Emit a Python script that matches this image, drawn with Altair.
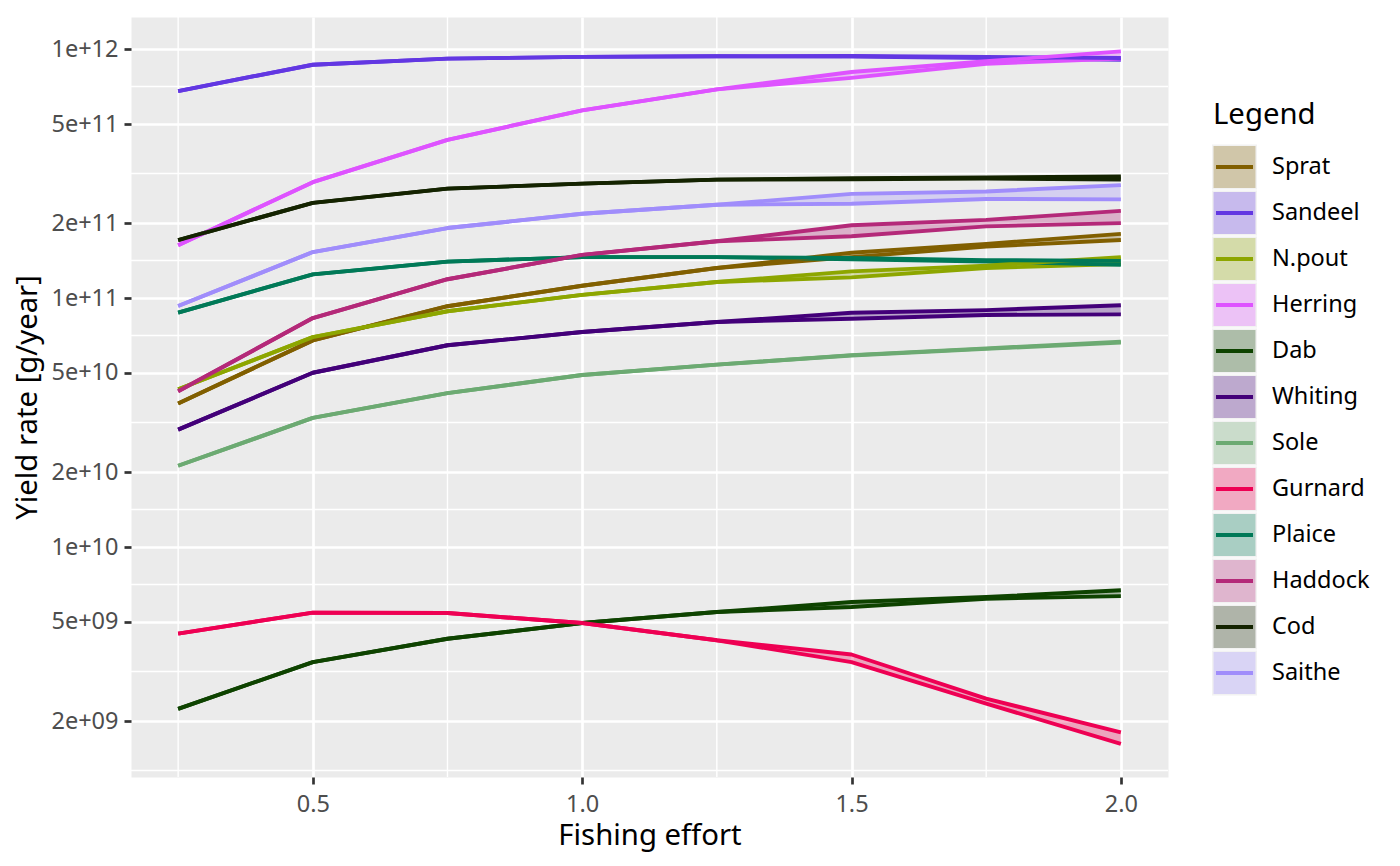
import altair as alt
import pandas as pd

# ---------------- data ----------------
effort = [0.25, 0.5, 0.75, 1.0, 1.25, 1.5, 1.75, 2.0]

species = ["Sprat", "Sandeel", "N.pout", "Herring", "Dab", "Whiting",
           "Sole", "Gurnard", "Plaice", "Haddock", "Cod", "Saithe"]
colours = ["#815f00", "#6237e2", "#8da600", "#de53ff", "#0e4300", "#430079",
           "#6caa72", "#ee0053", "#007957", "#b42979", "#142300", "#a08dfb"]

sprat_lo = [3.77e10, 6.76e10, 9.27e10, 1.12e11, 1.32e11, 1.46e11, 1.61e11, 1.71e11]
sprat_hi = [3.77e10, 6.76e10, 9.27e10, 1.12e11, 1.32e11, 1.52e11, 1.65e11, 1.81e11]
sandeel_lo = [6.78e11, 8.65e11, 9.15e11, 9.30e11, 9.35e11, 9.33e11, 9.20e11, 9.05e11]
sandeel_hi = [6.78e11, 8.65e11, 9.15e11, 9.30e11, 9.35e11, 9.38e11, 9.30e11, 9.20e11]
npout_lo = [4.30e10, 6.97e10, 8.85e10, 1.03e11, 1.16e11, 1.21e11, 1.32e11, 1.37e11]
npout_hi = [4.30e10, 6.97e10, 8.85e10, 1.03e11, 1.16e11, 1.28e11, 1.35e11, 1.46e11]
herring_lo = [1.63e11, 2.92e11, 4.32e11, 5.67e11, 6.89e11, 7.66e11, 8.73e11, 9.15e11]
herring_hi = [1.63e11, 2.92e11, 4.32e11, 5.67e11, 6.89e11, 8.09e11, 8.93e11, 9.79e11]
dab_lo = [2.24e9, 3.45e9, 4.28e9, 4.95e9, 5.48e9, 5.74e9, 6.20e9, 6.35e9]
dab_hi = [2.24e9, 3.45e9, 4.28e9, 4.95e9, 5.48e9, 6.01e9, 6.30e9, 6.70e9]
whiting_lo = [2.96e10, 5.01e10, 6.46e10, 7.30e10, 8.01e10, 8.26e10, 8.55e10, 8.60e10]
whiting_hi = [2.96e10, 5.01e10, 6.46e10, 7.30e10, 8.01e10, 8.73e10, 8.94e10, 9.36e10]
sole_lo = [2.12e10, 3.30e10, 4.15e10, 4.91e10, 5.40e10, 5.88e10, 6.25e10, 6.62e10]
sole_hi = [2.12e10, 3.30e10, 4.15e10, 4.91e10, 5.40e10, 5.90e10, 6.28e10, 6.68e10]
gurnard_lo = [4.49e9, 5.45e9, 5.43e9, 4.95e9, 4.22e9, 3.45e9, 2.35e9, 1.62e9]
gurnard_hi = [4.49e9, 5.45e9, 5.43e9, 4.95e9, 4.22e9, 3.70e9, 2.46e9, 1.80e9]
plaice_lo = [8.73e10, 1.245e11, 1.40e11, 1.46e11, 1.46e11, 1.43e11, 1.40e11, 1.36e11]
plaice_hi = [8.73e10, 1.245e11, 1.40e11, 1.46e11, 1.46e11, 1.45e11, 1.42e11, 1.41e11]
haddock_lo = [4.22e10, 8.31e10, 1.19e11, 1.49e11, 1.69e11, 1.77e11, 1.94e11, 2.00e11]
haddock_hi = [4.22e10, 8.31e10, 1.19e11, 1.49e11, 1.69e11, 1.96e11, 2.06e11, 2.24e11]
cod_lo = [1.71e11, 2.41e11, 2.75e11, 2.88e11, 2.99e11, 3.00e11, 3.02e11, 2.99e11]
cod_hi = [1.71e11, 2.41e11, 2.75e11, 2.88e11, 2.99e11, 3.03e11, 3.05e11, 3.08e11]
saithe_lo = [9.29e10, 1.53e11, 1.91e11, 2.18e11, 2.37e11, 2.39e11, 2.50e11, 2.49e11]
saithe_hi = [9.29e10, 1.53e11, 1.91e11, 2.18e11, 2.37e11, 2.62e11, 2.68e11, 2.84e11]

lower = [sprat_lo, sandeel_lo, npout_lo, herring_lo, dab_lo, whiting_lo,
         sole_lo, gurnard_lo, plaice_lo, haddock_lo, cod_lo, saithe_lo]
upper = [sprat_hi, sandeel_hi, npout_hi, herring_hi, dab_hi, whiting_hi,
         sole_hi, gurnard_hi, plaice_hi, haddock_hi, cod_hi, saithe_hi]

x_major = [0.5, 1.0, 1.5, 2.0]
x_minor = [0.25, 0.75, 1.25, 1.75]
y_major = [2e9, 5e9, 1e10, 2e10, 5e10, 1e11, 2e11, 5e11, 1e12]
y_minor = [1.265e9, 3.162e9, 7.071e9, 1.414e10, 3.162e10, 7.071e10,
           1.414e11, 3.162e11, 7.071e11]

# ---------------- tables ----------------
rows = []
for sp, lo, hi in zip(species, lower, upper):
    for e, a, b in zip(effort, lo, hi):
        rows.append({"Species": sp, "effort": e, "lo": a, "hi": b})
wide = pd.DataFrame(rows)
long = wide.melt(id_vars=["Species", "effort"], value_vars=["lo", "hi"],
                 var_name="bound", value_name="yield")

FONT = "Noto Sans"
x_scale = alt.Scale(domain=[0.1625, 2.0875], nice=False, zero=False)
y_scale = alt.Scale(type="log", domain=[1.192e9, 1.345e12], nice=False)
col_scale = alt.Scale(domain=species, range=colours)

x_axis = alt.Axis(values=x_major, format=".1f", title="Fishing effort",
                  grid=True, gridColor="white", gridWidth=2.7, domain=False,
                  tickColor="#333333", tickWidth=2.7, tickSize=7,
                  labelFont=FONT, labelFontSize=23.5, labelColor="#4d4d4d",
                  labelPadding=8, labelOverlap=False,
                  titleFont=FONT, titleFontSize=29.3, titleColor="black",
                  titleFontWeight="normal", titlePadding=6)
y_axis = alt.Axis(values=y_major, title="Yield rate [g/year]",
                  labelExpr="datum.value < 1e10 ? replace(format(datum.value, '.0e'), 'e+', 'e+0') : format(datum.value, '.0e')",
                  grid=True, gridColor="white", gridWidth=2.7, domain=False,
                  tickColor="#333333", tickWidth=2.7, tickSize=7,
                  labelFont=FONT, labelFontSize=23.5, labelColor="#4d4d4d",
                  labelPadding=6, labelOverlap=False,
                  titleFont=FONT, titleFontSize=29.3, titleColor="black",
                  titleFontWeight="normal", titlePadding=8)

X = alt.X("effort:Q", scale=x_scale, axis=x_axis)

vminor = alt.Chart(pd.DataFrame({"effort": x_minor})).mark_rule(
    color="white", strokeWidth=1.4).encode(x=X)
hminor = alt.Chart(pd.DataFrame({"yield": y_minor})).mark_rule(
    color="white", strokeWidth=1.4).encode(
    y=alt.Y("yield:Q", scale=y_scale, axis=y_axis))

ribbon = alt.Chart(wide).mark_area(fillOpacity=0.3).encode(
    x=X,
    y=alt.Y("lo:Q", scale=y_scale, axis=y_axis, stack=None),
    y2="hi:Q",
    fill=alt.Fill("Species:N", scale=col_scale, legend=None),
    detail="Species:N",
)
lines = alt.Chart(long).mark_line(strokeWidth=3.9, strokeJoin="round").encode(
    x=X,
    y=alt.Y("yield:Q", scale=y_scale, axis=y_axis),
    stroke=alt.Stroke("Species:N", scale=col_scale, legend=None),
    detail=["Species:N", "bound:N"],
)

main = alt.layer(vminor, hminor, ribbon, lines).properties(
    width=1037, height=760,
    view=alt.ViewBackground(fill="#ebebeb", stroke="transparent"),
)

# ---------------- legend panel ----------------
leg_df = pd.DataFrame({"Species": species, "idx": list(range(len(species)))})
leg_y = alt.Y("idx:Q", scale=alt.Scale(domain=[-3.261, 13.261], reverse=True,
                                       nice=False, zero=False), axis=None)

tiles = alt.Chart(leg_df).mark_square(size=45 * 45, color="#f2f2f2", opacity=1,
                                      strokeWidth=0).encode(
    x=alt.value(22.5), y=leg_y)
keys = alt.Chart(leg_df).mark_square(size=42 * 42, fillOpacity=0.3,
                                     strokeWidth=0).encode(
    x=alt.value(22.5), y=leg_y,
    fill=alt.Fill("Species:N", scale=col_scale, legend=None))
keylines = alt.Chart(leg_df).mark_tick(size=37, thickness=3.9, orient="horizontal",
                                       opacity=1).encode(
    x=alt.value(22.5), y=leg_y,
    color=alt.Color("Species:N", scale=col_scale, legend=None))
labels = alt.Chart(leg_df).mark_text(align="left", baseline="middle", font=FONT,
                                     fontSize=23.5, color="black").encode(
    x=alt.value(60), y=leg_y, text="Species:N")
leg_title = alt.Chart(pd.DataFrame({"t": ["Legend"]})).mark_text(
    align="left", baseline="middle", font=FONT, fontSize=29.3, color="black").encode(
    x=alt.value(1), y=alt.datum(-1.13), text="t:N")

legend = alt.layer(tiles, keys, keylines, labels, leg_title).properties(
    width=170, height=760,
    view=alt.ViewBackground(stroke="transparent"),
)

chart = alt.hconcat(main, legend, spacing=41).properties(
    padding={"left": 5, "top": 7, "right": 5, "bottom": 5},
    background="white",
).configure(font=FONT).configure_view(stroke="transparent")

chart.save("out.html", embed_options={"renderer": "svg", "actions": False})
